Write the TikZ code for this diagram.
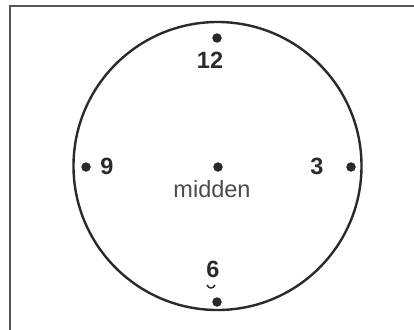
\documentclass[tikz,border=0pt]{standalone}
\usepackage{fontspec}
\setmainfont{Liberation Sans}
\definecolor{ink}{HTML}{2A2A2A}
\begin{document}
\begin{tikzpicture}[x=1pt,y=-1pt,
  dot/.style={circle,fill=ink,inner sep=0pt,minimum size=9.5pt},
  num/.style={font=\fontsize{23.5}{23.5}\selectfont\bfseries,text=ink,inner sep=0pt},
  lbl/.style={font=\fontsize{23.5}{23.5}\selectfont,text=ink!85,inner sep=0pt}]
\useasboundingbox (0,0) rectangle (414,329);
\draw[line width=1.6pt,ink!80] (10,6) rectangle (420,335);
\node[draw=ink,line width=2.4pt,circle,minimum size=288pt,inner sep=0pt] (face) at (217.5,166) {};
\node[dot] (d12) at (217,38) {};
\node[dot] (dc) at (218,167) {};
\node[dot] (d9) at (86,167) {};
\node[dot] (d3) at (351,167) {};
\node[dot] (d6) at (217,302) {};
\node[num] (t12) at (210,60) {12};
\node[num] (t9) at (107,166) {9};
\node[num] (t3) at (317,166) {3};
\node[num] (t6) at (213,269) {6};
\node[lbl] (tm) at (212,189) {midden};
\coordinate (b1) at (207,285);
\coordinate (b2) at (215,285);
\draw[line width=1.5pt,ink] (b1) .. controls (209,289) and (213,289) .. (b2);
\end{tikzpicture}
\end{document}
